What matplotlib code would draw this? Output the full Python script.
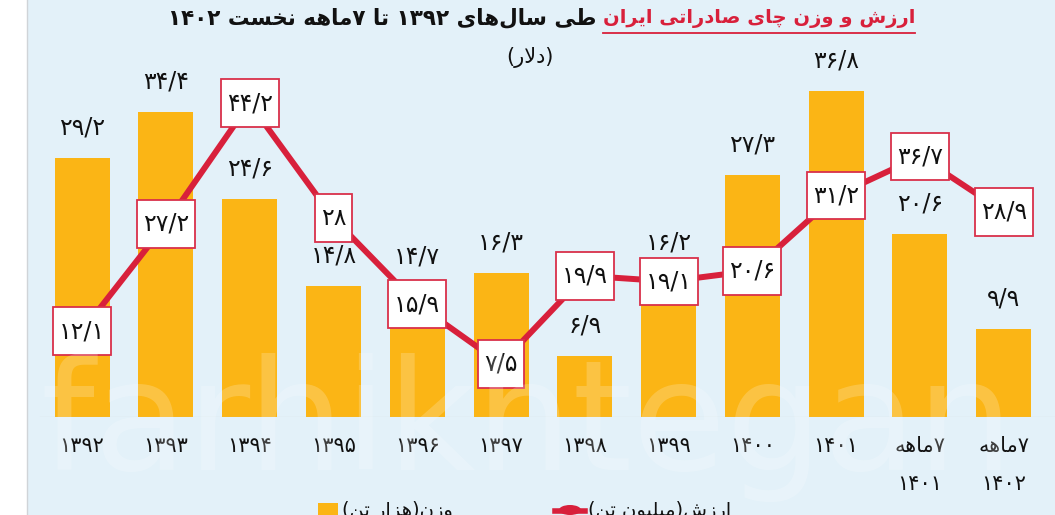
import matplotlib
matplotlib.use("Agg")
import matplotlib.pyplot as plt
from matplotlib.path import Path
from matplotlib.patches import Rectangle, Ellipse
from matplotlib.lines import Line2D

# --- data ---------------------------------------------------------------
years = ["۱۳۹۲", "۱۳۹۳", "۱۳۹۴", "۱۳۹۵", "۱۳۹۶", "۱۳۹۷",
         "۱۳۹۸", "۱۳۹۹", "۱۴۰۰", "۱۴۰۱", "۷ماهه\n۱۴۰۱", "۷ماهه\n۱۴۰۲"]
weight = [29.2, 34.4, 24.6, 14.8, 14.7, 16.3, 6.9, 16.2, 27.3, 36.8, 20.6, 9.9]   # thousand tons
value = [12.1, 27.2, 44.2, 28, 15.9, 7.5, 19.9, 19.1, 20.6, 31.2, 36.7, 28.9]     # million dollars

title_red = "ارزش و وزن چای صادراتی ایران"
title_black = "طی سال‌های ۱۳۹۲ تا ۷ماهه نخست ۱۴۰۲"
unit = "(دلار)"
legend_weight = "وزن(هزار تن)"
legend_value = "ارزش(میلیون تن)"

BG = "#e3f1f9"
ORANGE = "#fbb515"
RED = "#d8203b"

# --- minimal persian shaping (matplotlib has no bidi / joining) ---------
FORMS = {  # isolated, final, initial, medial
    'ا': ('\uFE8D', '\uFE8E', None, None),
    'ب': ('\uFE8F', '\uFE90', '\uFE91', '\uFE92'),
    'پ': ('\uFB56', '\uFB57', '\uFB58', '\uFB59'),
    'ت': ('\uFE95', '\uFE96', '\uFE97', '\uFE98'),
    'چ': ('\uFB7A', '\uFB7B', '\uFB7C', '\uFB7D'),
    'خ': ('\uFEA5', '\uFEA6', '\uFEA7', '\uFEA8'),
    'د': ('\uFEA9', '\uFEAA', None, None),
    'ر': ('\uFEAD', '\uFEAE', None, None),
    'ز': ('\uFEAF', '\uFEB0', None, None),
    'س': ('\uFEB1', '\uFEB2', '\uFEB3', '\uFEB4'),
    'ش': ('\uFEB5', '\uFEB6', '\uFEB7', '\uFEB8'),
    'ص': ('\uFEB9', '\uFEBA', '\uFEBB', '\uFEBC'),
    'ط': ('\uFEC1', '\uFEC2', '\uFEC3', '\uFEC4'),
    'ل': ('\uFEDD', '\uFEDE', '\uFEDF', '\uFEE0'),
    'م': ('\uFEE1', '\uFEE2', '\uFEE3', '\uFEE4'),
    'ن': ('\uFEE5', '\uFEE6', '\uFEE7', '\uFEE8'),
    'و': ('\uFEED', '\uFEEE', None, None),
    'ه': ('\uFEE9', '\uFEEA', '\uFEEB', '\uFEEC'),
    'ی': ('\uFBFC', '\uFBFD', '\uFBFE', '\uFBFF'),
}
DIGITS = set("۰۱۲۳۴۵۶۷۸۹0123456789/.")


def shape(text):
    out = []
    chars = list(text)
    i = 0
    while i < len(chars):
        c = chars[i]
        if c not in FORMS:
            if c != '\u200c':
                out.append(c)
            i += 1
            continue
        prev = chars[i - 1] if i > 0 else ''
        joins_prev = prev in FORMS and FORMS[prev][2] is not None
        if c == 'ل' and i + 1 < len(chars) and chars[i + 1] == 'ا':
            out.append('\uFEFC' if joins_prev else '\uFEFB')
            i += 2
            continue
        nxt = chars[i + 1] if i + 1 < len(chars) else ''
        joins_next = nxt in FORMS and FORMS[c][2] is not None
        iso, fin, ini, med = FORMS[c]
        if joins_prev and joins_next:
            out.append(med)
        elif joins_prev:
            out.append(fin)
        elif joins_next:
            out.append(ini)
        else:
            out.append(iso)
        i += 1
    # visual order: reverse everything, keep digit runs left-to-right
    rev = out[::-1]
    swap = {'(': ')', ')': '('}
    rev = [swap.get(c, c) for c in rev]
    res, run = [], []
    for c in rev:
        if c in DIGITS:
            run.append(c)
        else:
            res.extend(run[::-1])
            run = []
            res.append(c)
    res.extend(run[::-1])
    return ''.join(res)


def fa(text):
    return "\n".join(shape(line) for line in text.split("\n"))


def fa_num(v):
    s = ("%g" % v).replace(".", "/")
    return s.translate(str.maketrans("0123456789", "۰۱۲۳۴۵۶۷۸۹"))


def label_box(x0, y0, width, height, mutation_size):
    px, py = 0.25 * mutation_size, 0.5 * mutation_size
    return Path([(x0 - px, y0 - py), (x0 + width + px, y0 - py),
                 (x0 + width + px, y0 + height + py), (x0 - px, y0 + height + py),
                 (x0 - px, y0 - py)], closed=True)


plt.rcParams['font.family'] = ['DejaVu Sans']

W, H = 1055, 515
fig = plt.figure(figsize=(W / 100, H / 100), dpi=100, facecolor=BG)

# white strip on the left
fig.patches.append(Rectangle((0, 0), 27 / W, 1, transform=fig.transFigure,
                             facecolor="white", edgecolor="none", zorder=0))
fig.lines.append(Line2D([27 / W, 27 / W], [0, 1], transform=fig.transFigure,
                        color="#d0d4d8", lw=1))

ax = fig.add_axes([28 / W, 98 / H, 1027 / W, 377 / H])
ax.set_facecolor("none")
x = list(range(len(years)))
step = 83.8
ax.set_xlim((28 - 82) / step, (1055 - 82) / step)
ax.set_ylim(0, 377 / 8.86)

ax.bar(x, weight, width=55 / step, color=ORANGE, zorder=2)
for xi, w in zip(x, weight):
    ax.annotate(fa_num(w), (xi, w), xytext=(0, 22), textcoords="offset points",
                ha="center", va="center", fontsize=17, color="#111111")

ax.axhline(0, xmin=12 / 1027, color="#c9c2b8", lw=0.8, zorder=3)

for s in ax.spines.values():
    s.set_visible(False)
ax.set_yticks([])
ax.set_xticks(x)
ax.set_xticklabels([fa(t) for t in years], fontsize=15, color="#111111",
                   linespacing=2.1)
ax.tick_params(axis="x", length=0, pad=14)

ax2 = ax.twinx()
ax2.set_ylim(0, 377 / 7.1)
ax2.set_yticks([])
for s in ax2.spines.values():
    s.set_visible(False)
ax2.plot(x, value, color=RED, lw=4.3, solid_capstyle="butt", zorder=3)
for xi, v in zip(x, value):
    ax2.text(xi, v, fa_num(v), ha="center", va="center", fontsize=17,
             color="#111111", zorder=5,
             bbox=dict(boxstyle=label_box, facecolor="white",
                       edgecolor="#d9304a", lw=1.3))

# watermark
fig.text(40 / W, 1 - 470 / H, "farhikhtegan", fontsize=110, color="white",
         alpha=0.2, ha="left", va="baseline", zorder=10)

# title: red part on the right, black part continues to its left
red_txt = fig.text(915 / W, 1 - 18 / H, fa(title_red), fontsize=14,
                   fontweight="bold", color=RED, ha="right", va="center")
fig.canvas.draw()
bb = red_txt.get_window_extent()
fig.lines.append(Line2D([bb.x0 / W, 915 / W], [1 - 33 / H, 1 - 33 / H],
                        transform=fig.transFigure, color=RED, lw=1.3))
fig.text((bb.x0 - 6) / W, 1 - 18 / H, fa(title_black), fontsize=15.5,
         fontweight="bold", color="#111111", ha="right", va="center")
fig.text(530 / W, 1 - 57 / H, fa(unit), fontsize=15, color="#111111",
         ha="center", va="center")

# legend (cut by the bottom edge like the original)
fig.patches.append(Rectangle((318 / W, 0), 20 / W, 12 / H, transform=fig.transFigure,
                             facecolor=ORANGE, edgecolor="none"))
fig.text(342 / W, 1 - 511 / H, fa(legend_weight), fontsize=14, color="#111111",
         ha="left", va="center")
fig.lines.append(Line2D([555 / W, 585 / W], [1 - 511 / H, 1 - 511 / H],
                        transform=fig.transFigure, color=RED, lw=4))
fig.patches.append(Ellipse((570 / W, 1 - 510 / H), 22 / W, 10 / H,
                           transform=fig.transFigure, facecolor=RED, edgecolor="none"))
fig.text(588 / W, 1 - 511 / H, fa(legend_value), fontsize=14, color="#111111",
         ha="left", va="center")

fig.savefig("out.png", dpi=100, facecolor=BG)
